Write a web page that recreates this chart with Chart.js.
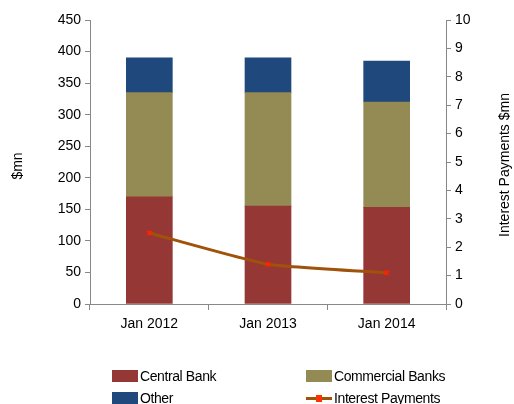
<!DOCTYPE html>
<html>
<head>
<meta charset="utf-8">
<script src="https://cdn.jsdelivr.net/npm/chart.js@4"></script>
<style>
  body { margin:0; background:#fff; }
  #wrap { position:relative; width:514px; height:404px; font-family:'Liberation Sans',sans-serif; }
  canvas { position:absolute; left:0; top:0; }
  .lg { position:absolute; display:flex; align-items:center; font-size:14px; color:#000; letter-spacing:-0.4px; }
  .lg .box { width:26px; height:12px; margin-right:2px; }
  .lg .ln { width:26px; height:3px; margin-right:2px; position:relative; }
  .lg .ln span { position:absolute; left:10px; top:-2px; width:6px; height:7px; background:#FF3300; }
</style>
</head>
<body>
<div id="wrap">
  <canvas id="c" width="514" height="404"></canvas>
  <div id="legend"></div>
</div>
<script>
const categories = ['Jan 2012', 'Jan 2013', 'Jan 2014'];
const centralBank = [170, 155, 153];
const commercialBanks = [165, 180, 167];
const other = [55, 55, 65];
const interestPayments = [2.5, 1.4, 1.1];
const leftTitle = '$mn';
const rightTitle = 'Interest Payments $mn';

const colors = { cb:'#953735', comm:'#948A54', other:'#1F497D', line:'#A0520A' };
const font = { family:"'Liberation Sans',sans-serif", size:14 };

// axis titles, both reading bottom-to-top as in the original
const axisTitles = {
  id:'axisTitles',
  afterDraw(chart) {
    const ctx = chart.ctx, area = chart.chartArea;
    const mid = (area.top + area.bottom) / 2;
    ctx.save();
    ctx.font = `${font.size}px ${font.family}`;
    ctx.fillStyle = '#000';
    ctx.textAlign = 'center';
    ctx.textBaseline = 'middle';
    [[18, mid + 4, leftTitle], [505, mid + 3, rightTitle]].forEach(([x, y, t]) => {
      ctx.save();
      ctx.translate(x, y);
      ctx.rotate(-Math.PI / 2);
      ctx.fillText(t, 0, 0);
      ctx.restore();
    });
    ctx.restore();
  }
};

new Chart(document.getElementById('c'), {
  data: {
    labels: categories,
    datasets: [
      { type:'line', label:'Interest Payments', data:interestPayments, yAxisID:'y1',
        borderColor:colors.line, borderWidth:3, tension:0.15,
        pointStyle:'crossRot', pointRadius:3, pointBorderColor:'#FF2200', pointBorderWidth:2, order:0 },
      { type:'bar', label:'Central Bank', data:centralBank, backgroundColor:colors.cb, stack:'s', order:1 },
      { type:'bar', label:'Commercial Banks', data:commercialBanks, backgroundColor:colors.comm, stack:'s', order:1 },
      { type:'bar', label:'Other', data:other, backgroundColor:colors.other, stack:'s', order:1 }
    ]
  },
  options: {
    responsive:false, animation:false,
    layout:{ padding:{ top:20, bottom:70, left:0, right:0 } },
    datasets:{ bar:{ barThickness:46 } },
    plugins:{ legend:{ display:false }, tooltip:{ enabled:false } },
    scales: {
      x: {
        stacked:true,
        grid:{ offset:true, drawOnChartArea:false, tickLength:6, color:'#888' },
        border:{ color:'#888' },
        ticks:{ font, color:'#000', padding:6 },
        afterFit: s => { s.height = 30; }
      },
      y: {
        stacked:true, min:0, max:450,
        grid:{ drawOnChartArea:false, tickLength:5, color:'#888' },
        border:{ color:'#888' },
        ticks:{ stepSize:50, font, color:'#000', padding:4 },
        afterFit: s => { s.width = 90; }
      },
      y1: {
        position:'right', min:0, max:10,
        grid:{ drawOnChartArea:false, tickLength:5, color:'#888' },
        border:{ color:'#888' },
        ticks:{ stepSize:1, font, color:'#000', padding:4 },
        afterFit: s => { s.width = 68; }
      }
    }
  },
  plugins:[axisTitles]
});

// legend, two columns like the original
const legendItems = [
  { label:'Central Bank', color:colors.cb, x:112, y:368 },
  { label:'Commercial Banks', color:colors.comm, x:306, y:368 },
  { label:'Other', color:colors.other, x:112, y:390 },
  { label:'Interest Payments', color:colors.line, x:306, y:390, line:true }
];
document.getElementById('legend').innerHTML = legendItems.map(it => `
  <div class="lg" style="left:${it.x}px;top:${it.y}px">
    ${it.line ? `<div class="ln" style="background:${it.color}"><span></span></div>` : `<div class="box" style="background:${it.color}"></div>`}
    <div>${it.label}</div>
  </div>`).join('');
</script>
</body>
</html>
